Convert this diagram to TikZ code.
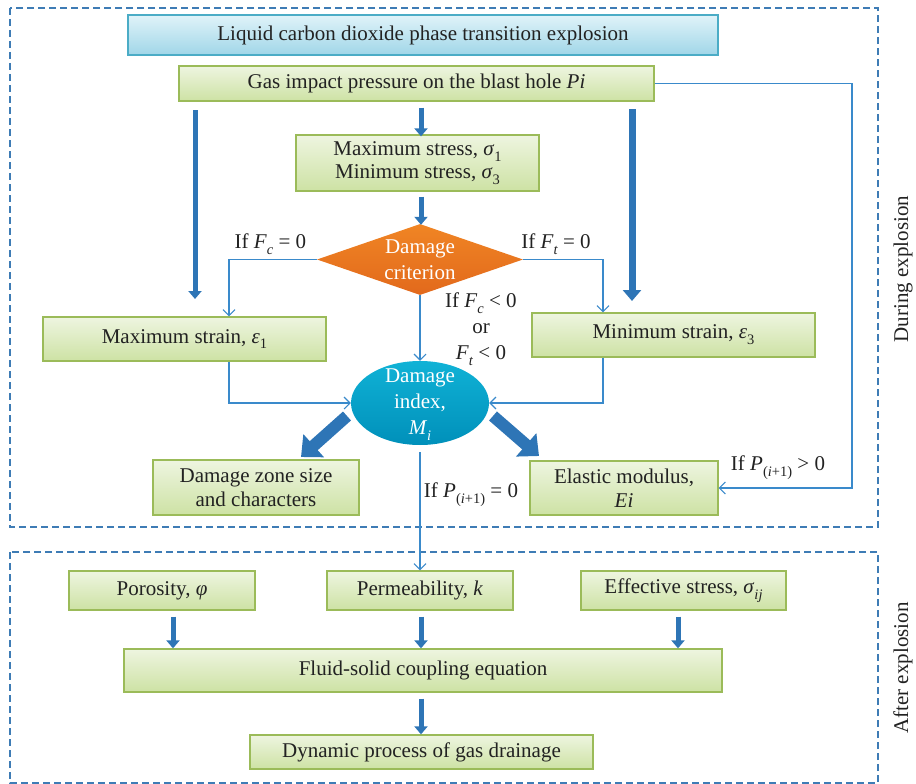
\documentclass[tikz,border=0pt]{standalone}
\usepackage{fontspec}
\setmainfont{Liberation Serif}
\usetikzlibrary{shapes.geometric,arrows.meta}
\newcommand\fs{\fontsize{21}{24}\selectfont}
\newcommand\lo[1]{\raisebox{-0.28em}{\fontsize{14.5}{14.5}\selectfont #1}}
\definecolor{gtop}{HTML}{EEF5E0}
\definecolor{gbot}{HTML}{CDE2A4}
\definecolor{gline}{HTML}{9BBB59}
\definecolor{bline}{HTML}{4BACC6}
\definecolor{btop}{HTML}{E0F3F9}
\definecolor{bbot}{HTML}{A0D6E8}
\definecolor{arrowblue}{HTML}{2E75B6}
\definecolor{thinblue}{HTML}{3A8ACB}
\definecolor{dashblue}{HTML}{3E7CB5}
\definecolor{orangeT}{HTML}{F08524}
\definecolor{orangeB}{HTML}{E2691C}
\definecolor{cyanT}{HTML}{10B2D6}
\definecolor{cyanB}{HTML}{0090BA}
\definecolor{txt}{HTML}{222222}
\begin{document}
\begin{tikzpicture}[x=1pt,y=-1pt,
  every node/.style={font=\fs, text=txt},
  gbox/.style={draw=gline, line width=1.3pt, top color=gtop, bottom color=gbot, inner sep=0pt, align=center},
  bbox/.style={draw=bline, line width=1.3pt, top color=btop, bottom color=bbot, inner sep=0pt, align=center},
  conn/.style={draw=thinblue, line width=1.1pt, -{Straight Barb[length=6pt,width=12pt]}},
  fatS/.style={draw=arrowblue, line width=5pt, -{Triangle[length=8pt,width=13pt]}},
  fatL/.style={draw=arrowblue, line width=7pt, -{Triangle[length=11pt,width=18pt]}},
  fatD/.style={draw=arrowblue, line width=12pt, -{Triangle[length=17pt,width=30pt]}},
  zone/.style={draw=dashblue, line width=1.2pt, dash pattern=on 7pt off 4pt},
  lbl/.style={align=center, inner sep=0pt}
]
\useasboundingbox (0,0) rectangle (916,784);

% zones
\draw[zone] (10,8) rectangle (878,527);
\draw[zone] (10,552) rectangle (878,783);
\node[rotate=90, lbl] (during) at (903,269) {During explosion};
\node[rotate=90, lbl] (after) at (903,668) {After explosion};

% boxes
\node[bbox, minimum width=590pt, minimum height=40pt] (title) at (423,35) {Liquid carbon dioxide phase transition explosion};
\node[gbox, minimum width=475pt, minimum height=35pt] (gas) at (416.5,83.5) {Gas impact pressure on the blast hole \textit{Pi}};
\node[gbox, minimum width=243pt, minimum height=56pt, font=\fontsize{21}{23.5}\selectfont] (mstress) at (417.5,163) {Maximum stress, \textit{σ}\lo{1}\\Minimum stress, \textit{σ}\lo{3}};
\node[diamond, top color=orangeT, bottom color=orangeB, minimum width=206pt, minimum height=71pt, inner sep=0pt] (diam) at (420,259.5) {};
\node[lbl, text=white, font=\fontsize{21}{26}\selectfont] (diamtxt) at (diam) {Damage\\criterion};
\node[gbox, minimum width=283pt, minimum height=44pt] (maxstrain) at (184.5,339) {Maximum strain, \textit{ε}\lo{1}};
\node[gbox, minimum width=283pt, minimum height=44pt] (minstrain) at (673.5,335) {Minimum strain, \textit{ε}\lo{3}};
\node[ellipse, top color=cyanT, bottom color=cyanB, minimum width=138pt, minimum height=84pt, inner sep=0pt] (ell) at (420,403) {};
\node[lbl, text=white, font=\fontsize{21}{26}\selectfont] (elltxt) at (420,405) {Damage\\index,\\\textit{M}\lo{\textit{i}}};
\node[gbox, minimum width=206pt, minimum height=55pt, font=\fontsize{21}{24}\selectfont] (dzone) at (256,487.5) {Damage zone size\\and characters};
\node[gbox, minimum width=188pt, minimum height=54pt, font=\fontsize{21}{24}\selectfont] (elastic) at (624,488) {Elastic modulus,\\\textit{Ei}};

\node[gbox, minimum width=186pt, minimum height=39pt] (poro) at (162,590.5) {Porosity, \textit{φ}};
\node[gbox, minimum width=186pt, minimum height=39pt] (perm) at (420,590.5) {Permeability, \textit{k}};
\node[gbox, minimum width=205pt, minimum height=39pt] (eff) at (683.5,590.5) {Effective stress, \textit{σ}\lo{\textit{ij}}};
\node[gbox, minimum width=598pt, minimum height=43pt] (fluid) at (423,670.5) {Fluid-solid coupling equation};
\node[gbox, minimum width=343pt, minimum height=34pt] (dyn) at (421.5,752) {Dynamic process of gas drainage};

% labels
\node[lbl] (lfc) at (270.5,244) {If \textit{F}\lo{\textit{c}} = 0};
\node[lbl] (lft) at (556,244) {If \textit{F}\lo{\textit{t}} = 0};
\node[lbl, font=\fontsize{21}{26}\selectfont] (lneg) at (481,329) {If \textit{F}\lo{\textit{c}} < 0\\or\\\textit{F}\lo{\textit{t}} < 0};
\node[lbl] (lp0) at (471,495) {If \textit{P}\lo{(\textit{i}+1)} = 0};
\node[lbl] (lp1) at (778,468) {If \textit{P}\lo{(\textit{i}+1)} > 0};

% thick arrows
\coordinate (cx) at (421,0);
\coordinate (la1) at (195,110);
\coordinate (la2) at (195,299);
\coordinate (ra1) at (632,109);
\coordinate (ra2) at (632,301);
\draw[fatS] (la1) -- (la2);
\draw[fatL] (ra1) -- (ra2);
\draw[fatS] ([yshift=-6pt]gas.south -| cx) -- ([yshift=-2pt]mstress.north -| cx);
\draw[fatS] ([yshift=-5pt]mstress.south -| cx) -- ([yshift=-1pt]diam.north -| cx);
\coordinate (dl1) at (347,416);
\coordinate (dl2) at (301,457);
\coordinate (dr1) at (493,416);
\coordinate (dr2) at (539,456);
\draw[fatD] (dl1) -- (dl2);
\draw[fatD] (dr1) -- (dr2);
\coordinate (pa) at (173,0);
\coordinate (ea) at (678,0);
\draw[fatS] ([yshift=-6pt]poro.south -| pa) -- (fluid.north -| pa);
\draw[fatS] ([yshift=-6pt]perm.south -| cx) -- (fluid.north -| cx);
\draw[fatS] ([yshift=-6pt]eff.south -| ea) -- (fluid.north -| ea);
\draw[fatS] ([yshift=-6pt]fluid.south -| cx) -- (dyn.north -| cx);

% thin connectors
\coordinate (rc) at (852,300);
\draw[conn] (gas.east) -| (rc) |- (elastic.east);
\draw[conn] (diam.west) -| ([xshift=44.5pt]maxstrain.north);
\draw[conn] (diam.east) -| ([xshift=-70.5pt]minstrain.north);
\draw[conn] (diam.south) -- (ell.north);
\draw[conn] ([xshift=44.5pt]maxstrain.south) |- (ell.west);
\draw[conn] ([xshift=-70.5pt]minstrain.south) |- (ell.east);
\draw[conn, shorten <=7pt] (ell.south) -- (perm.north);
\end{tikzpicture}
\end{document}
